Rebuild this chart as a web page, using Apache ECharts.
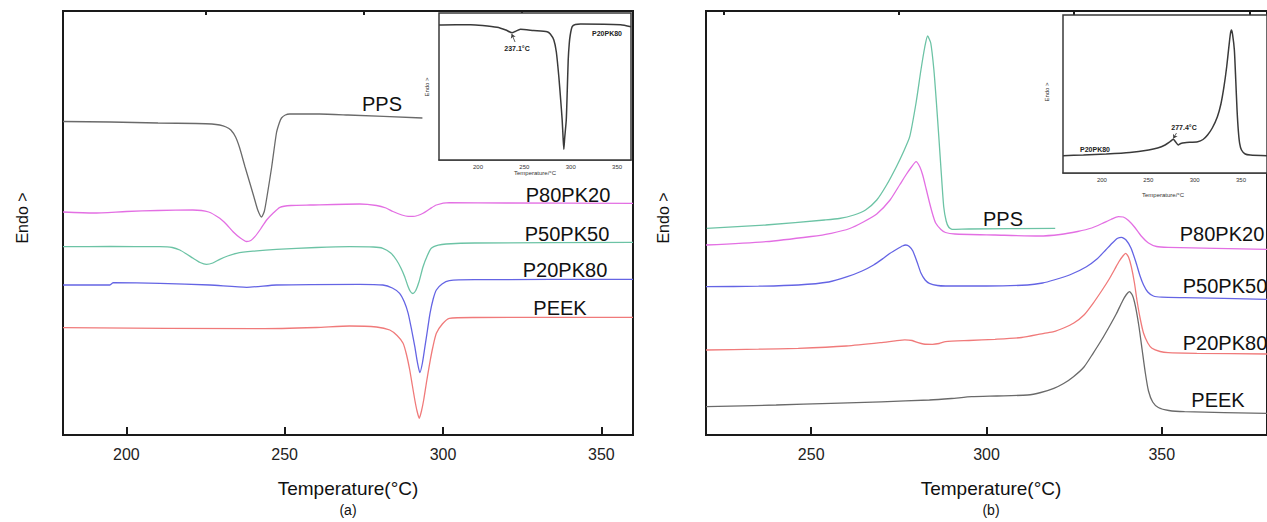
<!DOCTYPE html>
<html>
<head>
<meta charset="utf-8">
<script src="https://cdn.jsdelivr.net/npm/echarts@6/dist/echarts.min.js"></script>
<style>
html,body{margin:0;padding:0;background:#fff;}
#chart{width:1267px;height:522px;}
</style>
</head>
<body>
<div id="chart"></div>
<script>
// ---------- DATA (temperature °C, relative heat flow, endo up) ----------
// Panel (a): cooling curves
const A_PPS     = [[180,313.5],[195,313],[210,312],[222,311.5],[227,311],[229.5,310],[231.5,308],[233,305],[234.5,298],[235.8,287],[237.5,268],[239,252],[240.3,238],[241.5,225],[242.7,218],[243.6,224],[244.5,240],[245.9,268],[247.4,302],[248.3,312],[249,317],[250.2,320],[251.6,321],[261,321],[270,320],[293.5,317]];
const A_P80PK20 = [[180,223],[189.6,222],[200,223.5],[210,224.5],[221,225],[226,223],[229.5,216.7],[231.5,211],[233.7,203.3],[236,197],[238,193.5],[239.3,194.5],[240.6,198.3],[242.4,206],[244.3,215],[246.4,222],[248.5,227.7],[252,229.5],[258,230],[273.7,231],[279,229.5],[282,227],[284.2,223.5],[287,220],[289,218.6],[290.5,218.6],[292,219.5],[293.7,221.7],[295.8,226],[297.9,230],[302,232.3],[320,232],[360,231.7]];
const A_P50PK50 = [[180,188.3],[195,188.5],[210.6,188.3],[214.5,187.5],[216.9,185],[219,181],[221.1,176.7],[223.3,172.5],[225.3,170.7],[227.3,172],[229.5,175.7],[232,179],[234.8,181.7],[240,183.8],[247.4,185.7],[260,187.5],[270.5,188.3],[278,188],[281,186.7],[283.5,182],[285.3,175],[286.7,167],[287.9,158.3],[288.9,149],[289.7,143.5],[290.5,141.5],[291.4,144.5],[292.4,153],[293.7,168.3],[295,179],[296.3,186.7],[298.5,189.8],[301,191],[310,192],[360,192.7]];
const A_P20PK80 = [[180,150],[194.8,150],[195.9,152.3],[210.6,151.7],[226.4,150],[238,147.7],[247.4,150],[273.7,150.7],[281,150],[284,147],[286.3,141.7],[287.8,133],[289,121.7],[290.1,105],[291.1,88.3],[291.9,73],[292.7,62.3],[293.5,72],[294.3,88.3],[295.1,105],[295.9,121.7],[296.9,136],[297.9,145],[299.7,151],[302,154.3],[310,155.3],[360,155.7]];
const A_PEEK    = [[180,107.3],[242,106.3],[260,107.5],[270.5,109],[279,108],[283.2,105],[285.5,99.5],[287.4,91.7],[288.5,80],[289.5,65],[290.3,50],[291.1,35],[291.8,24],[292.5,16.7],[293.2,24],[293.9,35],[294.8,53],[295.8,71.7],[296.8,88],[297.9,101.7],[299.8,111],[302,116.7],[310,117.5],[360,117.7]];
// Panel (a) inset: P20PK80
const A_INSET   = [[158,135],[161,135],[192,135.3],[205,134.5],[220.6,132.7],[230,130],[236.8,127.3],[240,128.5],[245.8,130.7],[260,129.5],[274.6,128.3],[278,126],[281.8,120],[284.5,108],[287.2,83.3],[289.2,60],[290.8,40],[291.8,22],[292.6,10.7],[293.5,22],[295.2,40],[296.3,70],[297.3,100],[298.4,116],[299.5,125],[301.6,133.3],[305,135.5],[310.6,136],[353.8,135.3],[365,133.3]];

// Panel (b): heating curves
const B_PPS     = [[220.2,206.7],[237,210],[253.8,215],[258,216.5],[262.2,220],[265.5,225],[268.7,235],[271.5,250],[274.3,268.3],[276.3,283],[278.1,298.3],[279.9,332],[281.3,365],[282.4,388],[283.2,399],[284.1,392],[285,365],[285.7,333],[286.4,298.3],[287.1,262],[287.8,228.3],[288.5,214],[289.2,208],[290.2,205.7],[295,206],[319.6,206.7]];
const B_P80PK20 = [[220,190],[237,193.3],[250,198.5],[255.7,201.7],[261,206.5],[265,213.3],[268.7,221],[272.5,235],[275.3,250.5],[277.1,260.5],[278.6,268],[279.9,273.3],[281,268],[281.8,260],[282.8,246],[283.7,233],[284.7,220],[285.5,212],[287,205.5],[288.3,202.5],[291,201],[302.4,200],[315,199],[321,200.5],[326,203.5],[330,207],[333,211.5],[335.5,215.5],[337.6,218.3],[339,218],[340.5,214.5],[342.2,208],[344,199.5],[346.2,192],[348.5,188.5],[351.8,187.7],[380,185.7]];
const B_P50PK50 = [[220,148.3],[235,148.8],[246.3,150],[255,153],[260.3,158.3],[264.5,164],[267.8,170],[270.5,176.5],[272.5,181.7],[274.5,186],[276,189],[277,190],[278,188.5],[279,184],[280.2,173],[281.3,162],[282.5,155],[283.7,151.7],[286,149.5],[288.3,149],[300,149],[311.7,150],[316,152],[319.2,155],[324,160.5],[328.5,168.3],[331.5,176],[334,185],[335.9,192],[337.4,196.7],[338.5,197.7],[339.8,195],[341.2,187],[342.6,173],[343.8,159],[344.8,150],[346,143],[347.6,139],[350,137.8],[356.5,137.3],[380,135.7]];
const B_P20PK80 = [[220,85],[235,85.8],[246.3,86.7],[260,89],[269.7,92.3],[274,94.2],[276.7,95.2],[278.8,94.5],[280.5,92.3],[282,91],[284.6,90.7],[286.5,91.5],[288.3,93.3],[295,94.5],[302.4,95.7],[310,97.5],[316.4,101.7],[319.2,103.3],[322,107],[324.8,111.7],[327.8,120],[330.4,131.7],[333,145],[335,156],[336.6,166],[337.8,173.5],[338.9,179],[339.7,181.7],[340.5,178],[341.3,168.3],[342.2,152],[342.9,135],[343.8,117],[344.8,101.7],[346,92],[347.2,86.7],[349.5,83.5],[351.8,82.3],[360,81.7],[380,81]];
const B_PEEK    = [[220,28.3],[240,30],[255.7,31.7],[270,33.2],[283.7,35],[290,36.5],[295.8,38.3],[303,39],[311.7,40],[315.5,42.5],[319.2,46.7],[322,51.5],[324.8,58.3],[327.8,68],[330.4,81.7],[332.8,95],[335,108.3],[337,121],[338.8,134],[339.9,140.5],[340.8,143.3],[341.7,139],[342.5,128.3],[343.5,108],[344.4,85],[345.3,62],[346.2,44],[347.4,33],[349,27.5],[352,24.5],[356.5,23.3],[380,21.7]];
// Panel (b) inset: P20PK80
const B_INSET   = [[158,17.3],[180,18],[204.6,19],[230,20.5],[250.4,23],[260,25],[268.1,28],[273,31],[276.9,33.7],[279.5,31],[282.2,28],[285,29.5],[289.3,30.3],[303.3,31.3],[309,33.5],[313.9,38],[319,45],[324.5,56.3],[328.3,69],[331.6,86.3],[334.5,106],[336.9,126.3],[338.5,139],[339.6,143],[340.8,139],[342.8,123],[344.3,93],[345.7,63],[347.1,42],[348.5,29.7],[350.5,23],[354.5,19],[360,18],[378,17.3]];

// Tick values
const A_MAJOR = [200,250,300,350];
const A_MINOR = [225,275,325];
const B_MAJOR = [250,300,350];
const B_MINOR = [225,275,325,375];
const INSET_MAJOR = [200,250,300,350];
const INSET_MINOR = [175,225,275,325];

const NAMES_A = ['PPS','P80PK20','P50PK50','P20PK80','PEEK'];
const NAMES_B = ['PPS','P80PK20','P50PK50','P20PK80','PEEK'];
const INSET_ANN_A = '237.1°C';
const INSET_ANN_B = '277.4°C';

// ---------- STYLE ----------
const C_GRAY='#6a6a6a', C_MAG='#e36fe3', C_TEAL='#6cc3a5', C_BLUE='#6464e4', C_RED='#f07a7a', C_INSET='#3a3a3a';
const FONT = 'Liberation Sans, Arial, Helvetica, sans-serif';

const chart = echarts.init(document.getElementById('chart'), null, {renderer:'svg'});

function mainX(grid, min, max, major, minor){
  return [
    {type:'value', gridIndex:grid, min:min, max:max,
     axisLine:{show:true, lineStyle:{color:'#1a1a1a', width:2}},
     axisTick:{show:true, inside:true, length:8, customValues:major, lineStyle:{color:'#1a1a1a', width:2}},
     axisLabel:{show:true, customValues:major, margin:11, fontSize:16, color:'#222', fontFamily:FONT},
     splitLine:{show:false}},
    {type:'value', gridIndex:grid, min:min, max:max,
     axisLine:{show:false},
     axisTick:{show:true, inside:true, length:4, customValues:minor, lineStyle:{color:'#1a1a1a', width:2}},
     axisLabel:{show:false}, splitLine:{show:false}}
  ];
}
function insetX(grid, min, max){
  return [
    {type:'value', gridIndex:grid, min:min, max:max,
     axisLine:{show:true, lineStyle:{color:C_INSET, width:1.5}},
     axisTick:{show:true, inside:true, length:3, customValues:INSET_MAJOR, lineStyle:{color:C_INSET, width:1}},
     axisLabel:{show:true, customValues:INSET_MAJOR, margin:4, fontSize:6, color:'#333', fontFamily:FONT},
     splitLine:{show:false}},
    {type:'value', gridIndex:grid, min:min, max:max,
     axisLine:{show:false},
     axisTick:{show:true, inside:true, length:2, customValues:INSET_MINOR, lineStyle:{color:C_INSET, width:1}},
     axisLabel:{show:false}, splitLine:{show:false}}
  ];
}
function yAx(grid, max){
  return {type:'value', gridIndex:grid, min:0, max:max, show:true,
    axisLine:{show:false}, axisTick:{show:false}, axisLabel:{show:false}, splitLine:{show:false}};
}
function line(name, data, xi, yi, color, w){
  return {type:'line', name:name, data:data, xAxisIndex:xi, yAxisIndex:yi,
    showSymbol:false, symbol:'none', smooth:0.2,
    lineStyle:{color:color, width:w||1.3}, itemStyle:{color:color}, z:3, silent:true};
}

const xAxes = [].concat(
  mainX(0,180,360,A_MAJOR,A_MINOR),   // 0,1
  mainX(1,220,380,B_MAJOR,B_MINOR),   // 2,3
  insetX(2,158,365),                  // 4,5
  insetX(3,158,378)                   // 6,7
);

function txt(x,y,s,size,opts){
  opts = opts||{};
  return {type:'text', x:x, y:y, rotation:opts.rot||0, z:10,
    style:{text:s, fontSize:size, fontFamily:FONT, fill:opts.fill||'#111',
      fontWeight:opts.bold?'bold':'normal',
      textAlign:opts.align||'center', textVerticalAlign:'middle'}};
}

const option = {
  backgroundColor:'#fff',
  animation:false,
  grid:[
    {left:63, top:11, width:570, height:424, show:true, borderColor:'#1a1a1a', borderWidth:2, backgroundColor:'transparent', containLabel:false},
    {left:706, top:11, width:570, height:424, show:true, borderColor:'#1a1a1a', borderWidth:2, backgroundColor:'transparent', containLabel:false},
    {left:439, top:13, width:192, height:147, show:true, borderColor:C_INSET, borderWidth:1.5, backgroundColor:'#fff', containLabel:false, z:5},
    {left:1063, top:15, width:208, height:158, show:true, borderColor:C_INSET, borderWidth:1.5, backgroundColor:'#fff', containLabel:false, z:5}
  ],
  xAxis: xAxes,
  yAxis:[yAx(0,424), yAx(1,424), yAx(2,147), yAx(3,158)],
  series:[
    line(NAMES_A[0], A_PPS, 0,0, C_GRAY),
    line(NAMES_A[1], A_P80PK20, 0,0, C_MAG),
    line(NAMES_A[2], A_P50PK50, 0,0, C_TEAL),
    line(NAMES_A[3], A_P20PK80, 0,0, C_BLUE),
    line(NAMES_A[4], A_PEEK, 0,0, C_RED),
    line(NAMES_B[0], B_PPS, 2,1, C_TEAL),
    line(NAMES_B[1], B_P80PK20, 2,1, C_MAG),
    line(NAMES_B[2], B_P50PK50, 2,1, C_BLUE),
    line(NAMES_B[3], B_P20PK80, 2,1, C_RED),
    line(NAMES_B[4], B_PEEK, 2,1, C_GRAY),
    Object.assign(line('P20PK80 inset a', A_INSET, 4,2, C_INSET, 1.5), {z:6,
      markLine:{silent:true, symbol:['none','arrow'], symbolSize:4, label:{show:false},
        lineStyle:{color:C_INSET, width:0.8, type:'solid'},
        data:[[{coord:[240,118]},{coord:[236.4,126]}]]}}),
    Object.assign(line('P20PK80 inset b', B_INSET, 6,3, C_INSET, 1.5), {z:6,
      markLine:{silent:true, symbol:['none','arrow'], symbolSize:4, label:{show:false},
        lineStyle:{color:C_INSET, width:0.8, type:'solid'},
        data:[[{coord:[280.4,40]},{coord:[277,34.5]}]]}})
  ],
  graphic:[
    // panel (a)
    txt(22,218,'Endo >',16,{rot:Math.PI/2}),
    txt(348,488,'Temperature(°C)',19),
    txt(348,510,'(a)',14),
    txt(382,104,NAMES_A[0],20),
    txt(568,195,NAMES_A[1],20),
    txt(567,234,NAMES_A[2],20),
    txt(565,270,NAMES_A[3],20),
    txt(560,308,NAMES_A[4],20),
    // panel (b)
    txt(663,218,'Endo >',16,{rot:Math.PI/2}),
    txt(991,488,'Temperature(°C)',19),
    txt(991,510,'(b)',14),
    txt(1003,219,NAMES_B[0],20),
    txt(1222,234,NAMES_B[1],20),
    txt(1225,286,NAMES_B[2],20),
    txt(1225,343,NAMES_B[3],20),
    txt(1218,400,NAMES_B[4],20),
    // inset (a)
    txt(427,87,'Endo >',6,{rot:Math.PI/2, fill:'#333'}),
    txt(535,173,'Temperature/°C',6,{fill:'#333'}),
    txt(607,33,'P20PK80',7,{bold:true, fill:'#222'}),
    txt(517,48,INSET_ANN_A,7,{bold:true, fill:'#222'}),
    // inset (b)
    txt(1047,92,'Endo >',6,{rot:Math.PI/2, fill:'#333'}),
    txt(1163,195,'Temperature/°C',6,{fill:'#333'}),
    txt(1095,149,'P20PK80',7,{bold:true, fill:'#222'}),
    txt(1184,127,INSET_ANN_B,7,{bold:true, fill:'#222'})
  ]
};
chart.setOption(option);
</script>
</body>
</html>
